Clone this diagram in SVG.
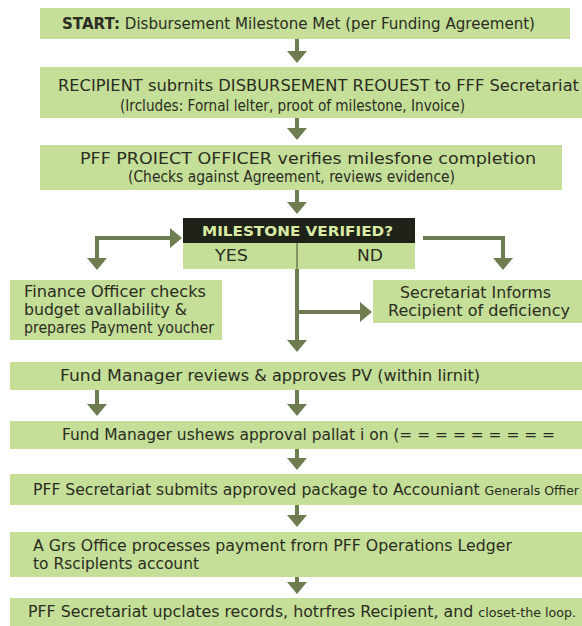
<svg xmlns="http://www.w3.org/2000/svg" width="582" height="626" viewBox="0 0 582 626">
<style>
.box{fill:#c5de98;}
.t{font-family:"DejaVu Sans","Noto Sans","Liberation Sans",sans-serif;fill:#2b2d22;font-size:15px;}
.b{font-weight:bold;}
.c{text-anchor:middle;}
.con{stroke:#6e7d4f;stroke-width:4;fill:none;}
.hd{fill:#1f2219;}
.ht{font-family:"DejaVu Sans","Noto Sans","Liberation Sans",sans-serif;fill:#d8eaa4;font-size:14px;font-weight:bold;}
</style>
<defs>
<marker id="ah" viewBox="0 0 12 20" refX="1" refY="10" markerWidth="12" markerHeight="20" markerUnits="userSpaceOnUse" orient="auto">
<path d="M0,0 L12,10 L0,20 z" fill="#6e7d4f"/>
</marker>
</defs>
<rect width="582" height="626" fill="#ffffff"/>

<g id="connectors">
<path class="con" d="M297,39 V52" marker-end="url(#ah)"/>
<path class="con" d="M297,118 V129" marker-end="url(#ah)"/>
<path class="con" d="M297,190 V203" marker-end="url(#ah)"/>
<path class="con" d="M97,238 H171" marker-end="url(#ah)"/>
<path class="con" d="M97,236 V259" marker-end="url(#ah)"/>
<path class="con" d="M423,238 H503 V259" marker-end="url(#ah)"/>
<path class="con" d="M297,243 V341" marker-end="url(#ah)"/>
<path class="con" d="M297,312 H361" marker-end="url(#ah)"/>
<path class="con" d="M97,390 V405" marker-end="url(#ah)"/>
<path class="con" d="M297,390 V405" marker-end="url(#ah)"/>
<path class="con" d="M297,449 V459" marker-end="url(#ah)"/>
<path class="con" d="M297,505 V516" marker-end="url(#ah)"/>
<path class="con" d="M297,577 V583" marker-end="url(#ah)"/>
</g>

<g id="start">
<rect class="box" x="40" y="8" width="530" height="31"/>
<text class="t" x="62" y="29" textLength="473" lengthAdjust="spacingAndGlyphs"><tspan class="b">START:</tspan>  Disbursement Milestone Met (per Funding Agreement)</text>
</g>

<g id="request">
<rect class="box" x="40" y="67" width="542" height="51"/>
<text class="t" x="58" y="91" font-size="14" textLength="521" lengthAdjust="spacingAndGlyphs"><tspan font-size="15">RECIPIENT</tspan> subrnits <tspan font-size="15">DISBURSEMENT REOUEST</tspan> to FFF Secretariat</text>
<text class="t" x="120" y="111" font-size="14" textLength="345" lengthAdjust="spacingAndGlyphs">(Ircludes: Fornal lelter, proot of milestone, Invoice)</text>
</g>

<g id="verify">
<rect class="box" x="40" y="145" width="522" height="45"/>
<text class="t" x="80" y="164" font-size="15.5" textLength="456" lengthAdjust="spacingAndGlyphs">PFF PROIECT OFFICER verifies  milesfone completion</text>
<text class="t" x="128" y="182" font-size="13.5" textLength="327" lengthAdjust="spacingAndGlyphs">(Checks against Agreement, reviews evidence)</text>
</g>

<g id="decision">
<rect class="box" x="183" y="218" width="232" height="51"/>
<rect class="hd" x="183" y="218" width="232" height="25"/>
<text class="ht" x="202" y="236" textLength="191" lengthAdjust="spacingAndGlyphs">MILESTONE VERIFIED?</text>
<line x1="297" y1="243" x2="297" y2="269" stroke="#6e7d4f" stroke-width="1.5"/>
<text class="t" x="215" y="261" textLength="33" lengthAdjust="spacingAndGlyphs">YES</text>
<text class="t" x="357" y="261" textLength="26" lengthAdjust="spacingAndGlyphs">ND</text>
</g>

<g id="finance">
<rect class="box" x="10" y="280" width="212" height="60"/>
<text class="t" x="24" y="297" textLength="182" lengthAdjust="spacingAndGlyphs">Finance Officer checks</text>
<text class="t" x="24" y="315" textLength="163" lengthAdjust="spacingAndGlyphs">budget avallability &amp;</text>
<text class="t" x="24" y="333" font-size="14" textLength="190" lengthAdjust="spacingAndGlyphs">prepares Payment youcher</text>
</g>

<g id="deficiency">
<rect class="box" x="373" y="280" width="209" height="43"/>
<text class="t" x="400" y="298" textLength="151" lengthAdjust="spacingAndGlyphs">Secretariat Informs</text>
<text class="t" x="388" y="316" textLength="182" lengthAdjust="spacingAndGlyphs">Recipient of deficiency</text>
</g>

<g id="fm-review">
<rect class="box" x="10" y="362" width="572" height="28"/>
<text class="t" x="60" y="381" font-size="14.5" textLength="420" lengthAdjust="spacingAndGlyphs"><tspan font-size="16">Fund Manager</tspan> reviews &amp; approves PV  (within lirnit)</text>
</g>

<g id="fm-approval">
<rect class="box" x="10" y="421" width="572" height="28"/>
<text class="t" x="62" y="440" textLength="493" lengthAdjust="spacingAndGlyphs">Fund Manager ushews approval pallat i on (= = = = = = = = =</text>
</g>

<g id="submit">
<rect class="box" x="10" y="474" width="572" height="31"/>
<text class="t" x="33" y="495" font-size="14.5" textLength="546" lengthAdjust="spacingAndGlyphs">PFF Secretariat submits approved package to Accouniant <tspan font-size="12">Generals Offier</tspan></text>
</g>

<g id="ag">
<rect class="box" x="10" y="532" width="572" height="45"/>
<text class="t" x="33" y="551" textLength="479" lengthAdjust="spacingAndGlyphs">A Grs Office processes payment frorn PFF Operations Ledger</text>
<text class="t" x="33" y="569" textLength="166" lengthAdjust="spacingAndGlyphs">to Rsciplents account</text>
</g>

<g id="close">
<rect class="box" x="10" y="598" width="572" height="28"/>
<text class="t" x="28" y="617" font-size="14.5" textLength="548" lengthAdjust="spacingAndGlyphs">PFF Secretariat upclates records, hotrfres Recipient, and <tspan font-size="12">closet-the loop.</tspan></text>
</g>
</svg>
